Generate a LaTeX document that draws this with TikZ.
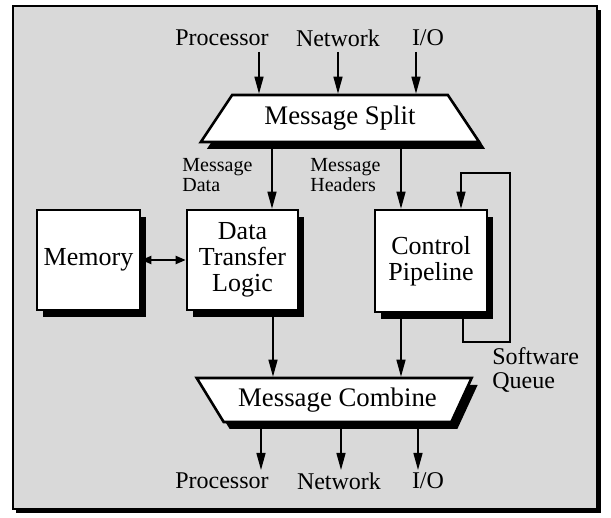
\documentclass[tikz,border=0pt]{standalone}
\usepackage{fontspec}
\setmainfont{Liberation Serif}
\usetikzlibrary{arrows.meta,positioning,shapes.geometric,shadows}

\begin{document}
\begin{tikzpicture}[x=0.5pt, y=-0.5pt,
  blk/.style={draw, line width=1.3pt, fill=white, align=center, inner sep=0pt, font=\fontsize{13}{13}\selectfont,
    drop shadow={shadow xshift=3pt, shadow yshift=-3.5pt, fill=black, opacity=1}},
  trap/.style={blk, trapezium, trapezium stretches=true, trapezium left angle=48, trapezium right angle=48, font=\fontsize{13.4}{13.4}\selectfont},
  lab/.style={font=\fontsize{12}{12}\selectfont, inner sep=0pt},
  msg/.style={font=\fontsize{10}{10}\selectfont, align=left, inner sep=0pt, anchor=west},
  arr/.style={-{Triangle[length=8.5pt, width=4.5pt]}, line width=0.7pt},
  dbl/.style={{Triangle[length=5pt, width=4pt]}-{Triangle[length=5pt, width=4pt]}, line width=1pt}]
\useasboundingbox (0,0) rectangle (611,518);
% frame
\fill[black] (16,10) rectangle (601,513);
\filldraw[fill=black!15, line width=0.8pt] (13,6) rectangle (597,509);
% blocks
\node[trap, minimum width=140pt, minimum height=23.5pt] (split) at (340,118.5) {Message Split};
\node[blk, minimum width=51.5pt, minimum height=50pt] (mem) at (88.5,260) {Memory};
\node[blk, minimum width=55.5pt, minimum height=50pt] (dtl) at (242.5,260) {Data\\Transfer\\Logic};
\node[blk, minimum width=56pt, minimum height=51pt] (ctl) at (431,261) {Control\\Pipeline};
\node[trap, shape border rotate=180, trapezium left angle=54, trapezium right angle=46,
  minimum width=137.5pt, minimum height=22pt] (comb) at (337.5,400) {Message Combine};
% labels
\node[lab] (procin) at (222,38) {Processor};
\node[lab] (netin) at (338,38) {Network};
\node[lab] (ioin) at (428,38) {I/O};
\node[lab] (procout) at (222,481) {Processor};
\node[lab] (netout) at (339,481) {Network};
\node[lab] (ioout) at (428,481) {I/O};
\node[msg] (mdata) at (182,175) {Message\\Data};
\node[msg] (mhead) at (310,175) {Message\\Headers};
\node[msg, font=\fontsize{12}{12}\selectfont] (swq) at (492,370) {Software\\Queue};
% inputs and outputs
\coordinate (in1) at (259,52);
\coordinate (in2) at (338,52);
\coordinate (in3) at (416,52);
\coordinate (out1) at (261,470);
\coordinate (out2) at (341,470);
\coordinate (out3) at (418,470);
\foreach \c in {in1,in2,in3}
  \draw[arr] (\c) -- (\c |- split.north);
\foreach \c in {out1,out2,out3}
  \draw[arr] (\c |- comb.south) -- (\c);
% data paths
\draw[arr] (272,0 |- split.south) -- (272,0 |- dtl.north);
\draw[arr] (401,0 |- split.south) -- (401,0 |- ctl.north);
\draw[arr] (273,0 |- dtl.south) -- (273,0 |- comb.north);
\draw[arr] (401,0 |- ctl.south) -- (401,0 |- comb.north);
\draw[dbl] (mem.east) -- (dtl.west);
% software queue loop
\draw[arr, line width=0.6pt] (463,0 |- ctl.south) -- (463,342) -| (510,173) -| (461,0 |- ctl.north);
\end{tikzpicture}
\end{document}
